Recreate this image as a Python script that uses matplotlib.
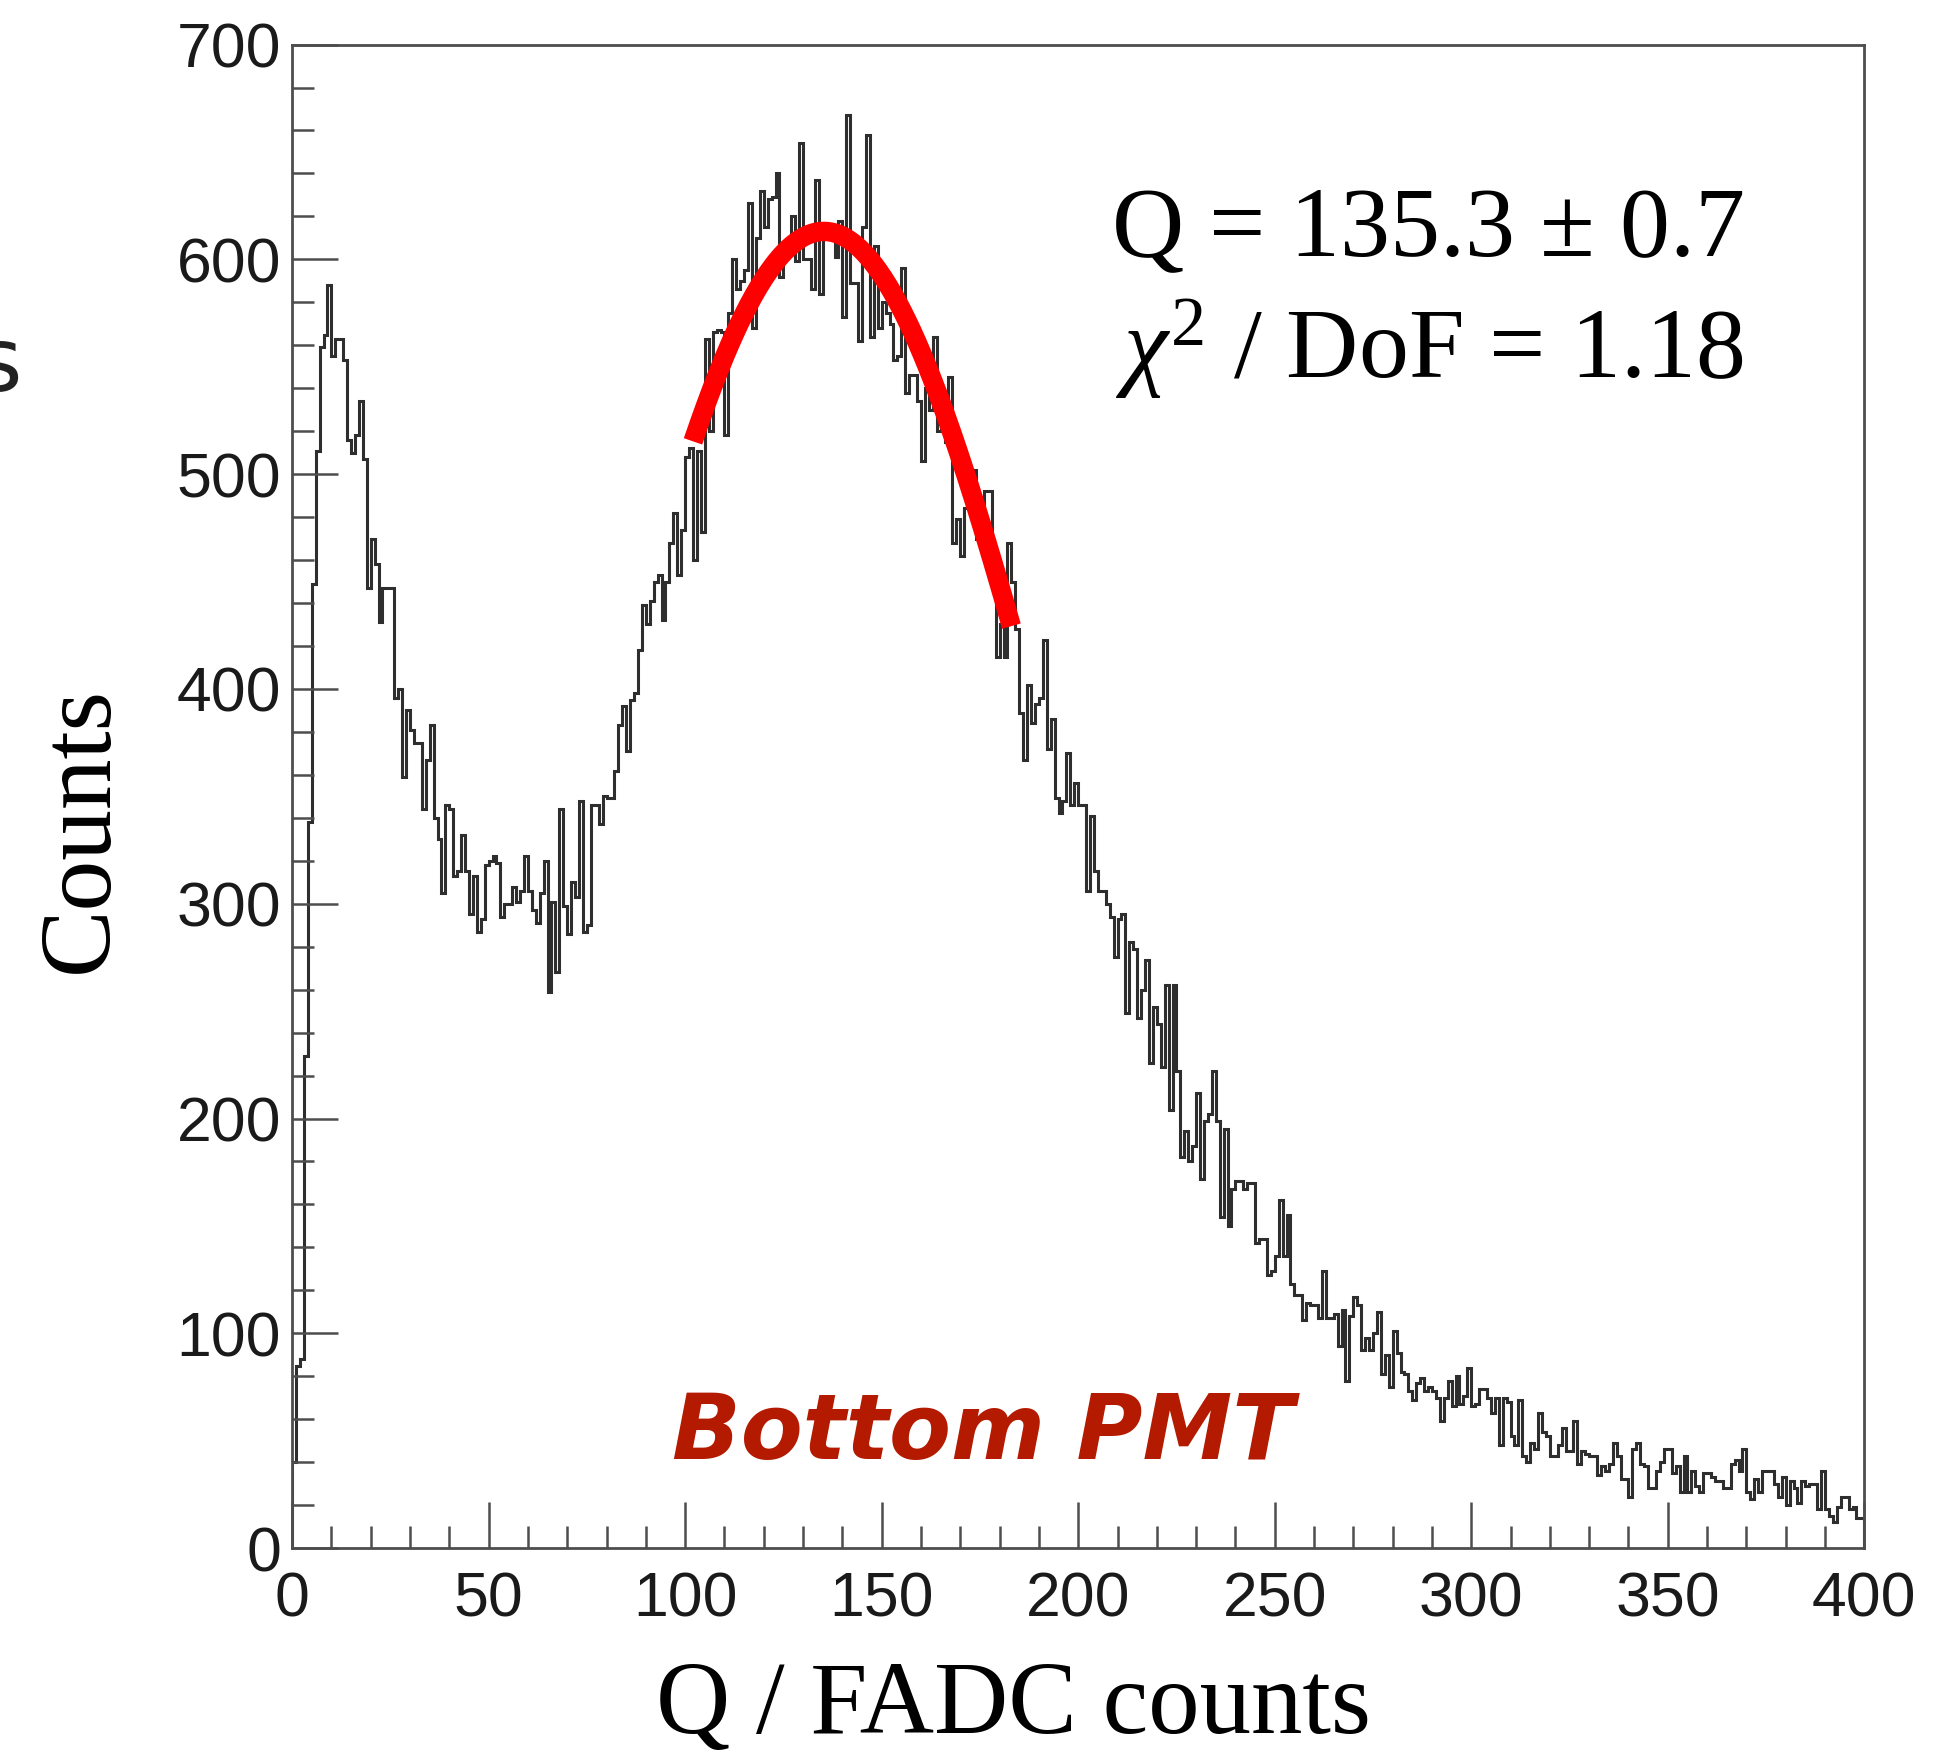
import numpy as np
import matplotlib
matplotlib.use("Agg")
import matplotlib.pyplot as plt
from matplotlib.ticker import MultipleLocator

q_min, q_max = 0, 400
counts = [
    40, 85, 88, 229, 338, 449, 511, 559, 565, 588,
    555, 563, 563, 553, 516, 510, 518, 534, 507, 447,
    470, 458, 431, 447, 447, 447, 396, 400, 359, 390,
    381, 375, 375, 344, 367, 383, 340, 330, 305, 346,
    344, 313, 315, 332, 315, 295, 313, 287, 293, 318,
    320, 322, 319, 294, 300, 300, 308, 301, 306, 322,
    306, 297, 291, 305, 320, 259, 301, 268, 344, 299,
    286, 310, 303, 348, 287, 290, 346, 346, 337, 350,
    349, 349, 362, 383, 392, 371, 395, 398, 418, 439,
    430, 441, 450, 453, 432, 450, 468, 482, 453, 474,
    508, 512, 460, 511, 473, 563, 520, 566, 567, 566,
    518, 575, 600, 586, 590, 595, 626, 568, 610, 632,
    615, 628, 629, 640, 592, 603, 603, 620, 599, 654,
    600, 600, 586, 637, 584, 611, 611, 616, 601, 618,
    573, 667, 589, 589, 562, 615, 658, 564, 606, 568,
    580, 575, 570, 553, 555, 596, 538, 546, 546, 534,
    506, 540, 530, 564, 520, 530, 515, 545, 468, 479,
    462, 484, 484, 502, 470, 480, 492, 492, 460, 415,
    430, 415, 468, 450, 428, 389, 367, 402, 384, 393,
    396, 423, 372, 386, 349, 342, 348, 370, 346, 356,
    346, 346, 306, 341, 315, 306, 306, 300, 294, 275,
    293, 295, 249, 282, 279, 247, 260, 274, 226, 252,
    244, 224, 262, 204, 262, 222, 182, 194, 180, 187,
    212, 172, 199, 202, 222, 199, 154, 195, 150, 167,
    171, 171, 167, 170, 170, 142, 144, 144, 127, 129,
    136, 162, 136, 155, 123, 118, 118, 106, 114, 113,
    113, 107, 129, 107, 107, 109, 94, 111, 78, 108,
    117, 113, 92, 98, 92, 100, 110, 81, 90, 75,
    101, 91, 82, 81, 73, 69, 77, 79, 73, 75,
    73, 70, 59, 70, 78, 66, 80, 67, 71, 84,
    66, 67, 74, 74, 70, 63, 70, 48, 70, 68,
    52, 48, 69, 43, 40, 49, 46, 63, 54, 52,
    43, 43, 48, 56, 45, 45, 59, 39, 45, 44,
    43, 43, 34, 38, 36, 39, 49, 43, 32, 32,
    24, 46, 49, 39, 38, 28, 28, 36, 40, 46,
    46, 35, 38, 26, 43, 26, 36, 29, 26, 35,
    35, 33, 31, 31, 28, 28, 39, 41, 36, 46,
    26, 23, 32, 26, 36, 36, 36, 30, 24, 33,
    20, 31, 28, 21, 31, 29, 30, 30, 18, 36,
    18, 15, 12, 19, 24, 24, 18, 19, 14, 14,
]

# Ajuste gaussiano del pico
fit_mean = 135.3
fit_sigma = 56.5
fit_amp = 613
fit_range = (102, 183)

fit_label_1 = r"Q = 135.3 $\pm$ 0.7"
fit_label_2 = r"$\chi^{2}$ / DoF = 1.18"
pmt_label = "Bottom PMT"

plt.rcParams['mathtext.fontset'] = 'custom'
plt.rcParams['mathtext.rm'] = 'Liberation Serif'
plt.rcParams['mathtext.it'] = 'Liberation Serif:italic'

axis_col = '#4d4d4d'
hist_col = '#2e2e2e'

fig = plt.figure(figsize=(19.42, 17.54), dpi=100)
ax = fig.add_axes([0.1504, 0.1174, 0.8096, 0.8572])

edges = np.linspace(q_min, q_max, len(counts) + 1)
ax.stairs(counts, edges, color=hist_col, linewidth=2.2, baseline=0)

xf = np.linspace(fit_range[0], fit_range[1], 200)
yf = fit_amp * np.exp(-0.5 * ((xf - fit_mean) / fit_sigma) ** 2)
ax.plot(xf, yf, color='#ff0000', linewidth=14, solid_capstyle='butt', zorder=3)

ax.set_xlim(q_min, q_max)
ax.set_ylim(0, 700)
ax.xaxis.set_major_locator(MultipleLocator(50))
ax.xaxis.set_minor_locator(MultipleLocator(10))
ax.yaxis.set_major_locator(MultipleLocator(100))
ax.yaxis.set_minor_locator(MultipleLocator(20))
ax.tick_params(which='both', direction='in', top=False, right=False,
               color=axis_col, width=1.8)
ax.tick_params(which='major', length=33)
ax.tick_params(which='minor', length=16)
ax.tick_params(axis='x', which='major', pad=16)
ax.tick_params(axis='y', which='major', pad=8)
for lab in ax.get_xticklabels() + ax.get_yticklabels():
    lab.set_fontfamily('Liberation Sans')
    lab.set_fontsize(45)
    lab.set_color('#1a1a1a')
for sp in ax.spines.values():
    sp.set_color(axis_col)
    sp.set_linewidth(2.0)

serif = 'Liberation Serif'
fig.text(1013 / 1942, 1 - 1708 / 1754, "Q / FADC counts", family=serif,
         fontsize=74, ha='center', va='center')
fig.text(83 / 1942, 1 - 830 / 1754, "Counts", family=serif, fontsize=73,
         rotation=90, ha='center', va='center')
fig.text(1111 / 1942, 1 - 256 / 1754, fit_label_1, family=serif,
         fontsize=72, ha='left', va='baseline')
fig.text(1115 / 1942, 1 - 378 / 1754, fit_label_2, family=serif,
         fontsize=72, ha='left', va='baseline')
fig.text(672 / 1942, 1 - 1459 / 1754, pmt_label, family='DejaVu Sans',
         fontsize=65, fontweight='bold', fontstyle='oblique', color='#b31a00',
         ha='left', va='baseline')

# Resto de una "s" recortada en el borde izquierdo
fig.text(22 / 1942, 1 - 367 / 1754, "s", family='DejaVu Sans', fontsize=64,
         ha='right', va='center', color='#222222')

fig.savefig('out.png', dpi=100)
